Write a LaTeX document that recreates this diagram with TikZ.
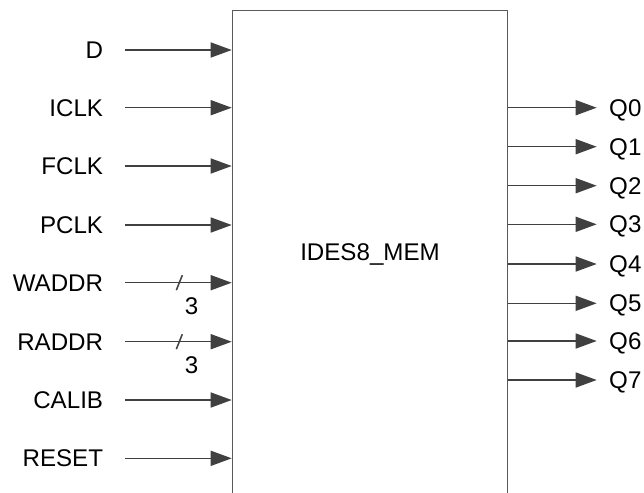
\documentclass[tikz,border=0pt]{standalone}
\usepackage{fontspec}
\setmainfont{Liberation Sans}
\usepackage{tikz}
\usetikzlibrary{calc}
\usetikzlibrary{arrows.meta}

\definecolor{wirecol}{RGB}{64,64,64}
\definecolor{boxcol}{RGB}{90,90,90}

\begin{document}
\begin{tikzpicture}[x=0.03cm, y=-0.03cm, font=\fontsize{20.6}{24}\selectfont,
    block/.style={draw=boxcol, line width=1.3pt, minimum width=8.25cm, minimum height=14.61cm, inner sep=0pt},
    pinlabel/.style={inner sep=0pt, text depth=0pt},
    wire/.style={draw=wirecol, line width=1.3pt, -{Triangle[length=0.63cm, width=0.45cm]}},
    slash/.style={draw=wirecol, line width=1.3pt}]
    \useasboundingbox (0,0) rectangle (644,492);
    \node[block] (mem) at (370,254) {IDES8\_MEM};
    \foreach[count=\i] \pin/\py in {D/50,ICLK/107.7,FCLK/166,PCLK/225,WADDR/282.7,RADDR/341.7,CALIB/400,RESET/458.3} {
        \node[pinlabel, anchor=east] (in-\i) at (103.3,\py) {\pin};
        \draw[wire] (in-\i.east) ++(21.7,0) -- (in-\i -| mem.west);
    }
    % bus width marks
    \foreach \j in {5,6} {
        \draw[slash] ($(in-\j.east)+(73,7.5)$) -- ++(6,-15);
        \node[pinlabel] (w-\j) at ($(in-\j.east)+(88.4,23)$) {3};
    }
    \foreach[count=\i from 0] \py in {107.7,146.7,185.7,224.3,264,303.3,341,380} {
        \node[pinlabel, anchor=west] (q-\i) at (609,\py) {Q\i};
        \draw[wire] (q-\i -| mem.east) -- ($(q-\i.west)+(-12.3,0)$);
    }
\end{tikzpicture}
\end{document}
